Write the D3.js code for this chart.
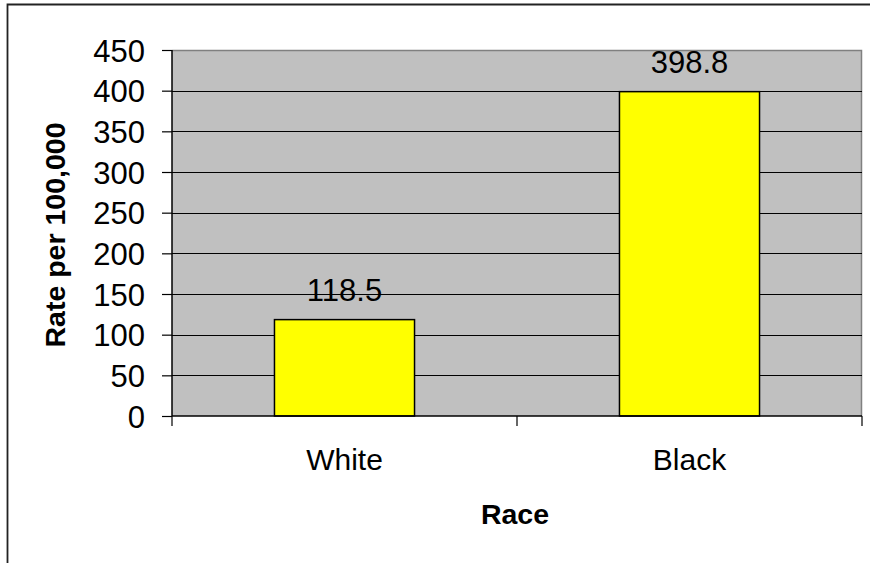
<!DOCTYPE html>
<html>
<head>
<meta charset="utf-8">
<script src="https://cdn.jsdelivr.net/npm/d3@7"></script>
<style>
  html, body { margin: 0; padding: 0; background: #fff; }
  svg { display: block; font-family: "Liberation Sans", Arial, sans-serif; }
</style>
</head>
<body>
<svg id="chart" width="870" height="563"></svg>
<script>
// Rate per 100,000 by race
const categories = ["White", "Black"];
const rates = [118.5, 398.8];
const yTicks = [0, 50, 100, 150, 200, 250, 300, 350, 400, 450];

const svg = d3.select("#chart");
const plot = { left: 172, right: 862, top: 50, bottom: 416 };

const x = d3.scaleBand()
  .domain(categories)
  .range([plot.left, plot.right])
  .paddingInner(0.594)
  .paddingOuter(0.297);

const xBand = d3.scaleBand().domain(categories).range([plot.left, plot.right]);

const y = d3.scaleLinear().domain([0, 450]).range([plot.bottom, plot.top]);

// outer frame (left and top edges)
svg.append("path")
  .attr("d", `M7.5,563 V4.5 H870`)
  .attr("fill", "none")
  .attr("stroke", "#222")
  .attr("stroke-width", 1.8);

// plot area background
svg.append("rect")
  .attr("x", plot.left).attr("y", plot.top)
  .attr("width", plot.right - plot.left)
  .attr("height", plot.bottom - plot.top)
  .attr("fill", "#C0C0C0");

// top and right borders of plot area
svg.append("path")
  .attr("d", `M${plot.left},${plot.top + 0.5} H${plot.right - 0.5} V${plot.bottom}`)
  .attr("fill", "none")
  .attr("stroke", "#808080")
  .attr("stroke-width", 1.5);

// gridlines
svg.append("g")
  .selectAll("line")
  .data(yTicks.filter(d => d > 0 && d < 450))
  .join("line")
  .attr("x1", plot.left).attr("x2", plot.right)
  .attr("y1", d => Math.round(y(d)) + 0.5)
  .attr("y2", d => Math.round(y(d)) + 0.5)
  .attr("stroke", "#000")
  .attr("stroke-width", 1);

// bars
svg.append("g")
  .selectAll("rect")
  .data(categories.map((c, i) => ({ c, v: rates[i] })))
  .join("rect")
  .attr("x", d => x(d.c))
  .attr("y", d => y(d.v))
  .attr("width", x.bandwidth())
  .attr("height", d => plot.bottom - y(d.v))
  .attr("fill", "#FFFF00")
  .attr("stroke", "#000")
  .attr("stroke-width", 1.5);

// value labels
svg.append("g")
  .selectAll("text")
  .data(categories.map((c, i) => ({ c, v: rates[i] })))
  .join("text")
  .attr("x", d => x(d.c) + x.bandwidth() / 2)
  .attr("y", d => y(d.v) - 18.5)
  .attr("text-anchor", "middle")
  .attr("font-size", 31)
  .attr("fill", "#000")
  .text(d => d.v.toFixed(1));

// y axis
const yAxis = d3.axisLeft(y).tickValues(yTicks).tickSize(10).tickPadding(17);
const gy = svg.append("g").attr("transform", `translate(${plot.left},0)`).call(yAxis);
gy.select(".domain").attr("stroke", "#000").attr("stroke-width", 1.5).attr("d", `M0,${plot.top}V${plot.bottom}`);
gy.selectAll(".tick line").attr("stroke", "#000").attr("stroke-width", 1.2);
gy.selectAll(".tick text")
  .attr("font-size", 31)
  .attr("font-family", "'Liberation Sans', Arial, sans-serif")
  .attr("fill", "#000")
  .attr("dy", "0.36em");

// x axis with tick marks at band boundaries
const gx = svg.append("g");
gx.append("line")
  .attr("x1", plot.left).attr("x2", plot.right)
  .attr("y1", plot.bottom).attr("y2", plot.bottom)
  .attr("stroke", "#000").attr("stroke-width", 1.5);
const boundaries = categories.map(c => xBand(c)).concat([plot.right]);
gx.selectAll("line.tk")
  .data(boundaries)
  .join("line")
  .attr("class", "tk")
  .attr("x1", d => d).attr("x2", d => d)
  .attr("y1", plot.bottom).attr("y2", plot.bottom + 10)
  .attr("stroke", "#000").attr("stroke-width", 1.2);
gx.selectAll("text")
  .data(categories)
  .join("text")
  .attr("x", d => xBand(d) + xBand.bandwidth() / 2)
  .attr("y", 470)
  .attr("text-anchor", "middle")
  .attr("font-size", 30)
  .attr("fill", "#000")
  .text(d => d);

// axis titles
svg.append("text")
  .attr("x", 515).attr("y", 524)
  .attr("text-anchor", "middle")
  .attr("font-size", 28.5)
  .attr("font-weight", "bold")
  .text("Race");

svg.append("text")
  .attr("transform", "translate(65,235) rotate(-90)")
  .attr("text-anchor", "middle")
  .attr("font-size", 28.5)
  .attr("font-weight", "bold")
  .text("Rate per 100,000");
</script>
</body>
</html>
